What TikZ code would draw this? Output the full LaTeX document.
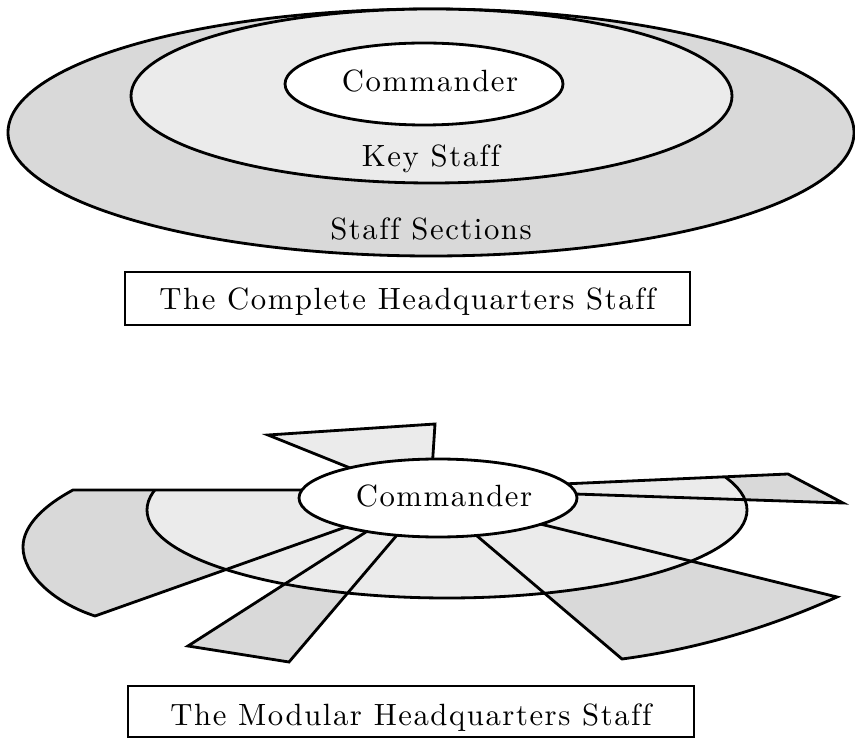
\documentclass[tikz,border=0pt]{standalone}
\usepackage{fontspec}
\newfontfamily\lblfont{lmroman10-regular.otf}[LetterSpace=5, Ligatures=NoCommon]

\definecolor{keyfill}{gray}{0.92}
\definecolor{secfill}{gray}{0.85}

\tikzset{
  lbl/.style={font=\lblfont\fontsize{17.5}{21}\selectfont, inner sep=0pt},
  ring/.style={draw, line width=1.6pt},
  capbox/.style={lbl, draw, line width=1.6pt}
}

\begin{document}
\begin{tikzpicture}[x=0.02cm, y=-0.02cm]
\useasboundingbox (0,0) rectangle (855,739);

% the complete staff
\draw[ring, fill=secfill] (431,132.5) ellipse [x radius=423, y radius=123.5];
\draw[ring, fill=keyfill] (431.5,96) ellipse [x radius=300.5, y radius=87];
\draw[ring, fill=white] (424,84) ellipse [x radius=139, y radius=41];

\node[lbl, anchor=base] (cmdfull) at (430,92) {Commander};
\node[lbl, anchor=base] (keystaff) at (431,167) {Key Staff};
\node[lbl, anchor=base] (sections) at (431,240) {Staff Sections};

\node[capbox, minimum width=11.3cm, minimum height=1.06cm, text height=0.5cm, text depth=0.04cm] (capfull) at (407.5,298.5) {The Complete Headquarters Staff};

% the modular staff
\coordinate (lt) at (73,490);
\coordinate (lti) at (320,490);
\coordinate (lbi) at (360,522);
\coordinate (lb) at (95,616);

\coordinate (ma) at (380,523);
\coordinate (mb) at (188,646);
\coordinate (mc) at (289,662);
\coordinate (md) at (403,528);

\coordinate (ra) at (470,530);
\coordinate (rb) at (622,659);
\coordinate (rc) at (837,597);
\coordinate (rd) at (528,521);

\coordinate (wa) at (540,485);
\coordinate (wb) at (788,474);
\coordinate (wc) at (843,503);
\coordinate (wd) at (545,493);

\draw[ring, fill=keyfill] (268,435) -- (435,424) -- (432,470) -- (365,474) -- cycle;

\fill[secfill] (lt) -- (lti) -- (lbi) -- (lb) .. controls (55,603) and (23,575) .. (23,547) .. controls (23,525) and (45,505) .. (lt) -- cycle;
\fill[secfill] (ma) -- (mb) -- (mc) -- (md) -- cycle;
\fill[secfill] (ra) -- (rb) .. controls (697,649) and (768,628) .. (rc) -- (rd) -- cycle;
\fill[secfill] (wa) -- (wb) -- (wc) -- (wd) -- cycle;

\begin{scope}
\clip (0,490) -- (lti) -- (wa) -- (wb) -- (855,471) -- (855,739) -- (0,739) -- cycle;
\draw[ring, fill=keyfill] (447,510) ellipse [x radius=300, y radius=88];
\end{scope}

\draw[ring] (lt) -- (lti) -- (lbi) -- (lb) .. controls (55,603) and (23,575) .. (23,547) .. controls (23,525) and (45,505) .. (lt) -- cycle;
\draw[ring] (ma) -- (mb) -- (mc) -- (md) -- cycle;
\draw[ring] (ra) -- (rb) .. controls (697,649) and (768,628) .. (rc) -- (rd) -- cycle;
\draw[ring] (wa) -- (wb) -- (wc) -- (wd) -- cycle;

\draw[ring, fill=white] (438,498) ellipse [x radius=139, y radius=39];
\node[lbl, anchor=base] (cmdmod) at (444,506) {Commander};

\node[capbox, minimum width=11.32cm, minimum height=1.02cm, text height=0.58cm, text depth=0.04cm] (capmod) at (411,711.5) {The Modular Headquarters Staff};
\end{tikzpicture}
\end{document}
